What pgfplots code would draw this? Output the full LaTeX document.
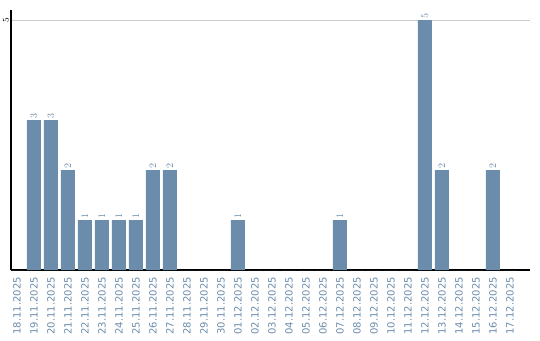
\documentclass[border=0pt]{standalone}
\usepackage{pgfplots}
\pgfplotsset{compat=1.18}
\usepackage{fontspec}
\setmainfont{DejaVu Sans}
\definecolor{barc}{RGB}{107,140,171}
\definecolor{gridc}{RGB}{204,204,204}
\begin{document}
\begin{tikzpicture}[x=1bp,y=1bp]
\path[use as bounding box] (0,0) rectangle (540,340);
\begin{axis}[
  at={(11bp,70bp)}, anchor=south west,
  scale only axis, width=519bp, height=260bp,
  xmin=-0.353, xmax=30.18,
  ymin=0, ymax=5.2,
  axis x line*=bottom, axis y line*=left,
  axis line style={black, line width=1.2bp, -},
  xtick={0,...,29}, major tick length=0pt,
  xmajorgrids=false,
  xticklabels={18.11.2025,19.11.2025,20.11.2025,21.11.2025,22.11.2025,23.11.2025,24.11.2025,25.11.2025,26.11.2025,27.11.2025,28.11.2025,29.11.2025,30.11.2025,01.12.2025,02.12.2025,03.12.2025,04.12.2025,05.12.2025,06.12.2025,07.12.2025,08.12.2025,09.12.2025,10.12.2025,11.12.2025,12.12.2025,13.12.2025,14.12.2025,15.12.2025,16.12.2025,17.12.2025},
  xticklabel style={rotate=90, anchor=east, font=\fontsize{10bp}{12bp}\selectfont, text=barc, inner sep=0pt, xshift=-7bp},
  ytick={5},
  yticklabel style={rotate=90, anchor=south, font=\fontsize{9bp}{11bp}\selectfont, text=black, inner sep=0pt, yshift=2bp},
  ymajorgrids=true, y grid style={gridc, line width=1bp},
  clip=false,
]
\addplot[ybar, bar width=14bp, fill=barc, draw=none,
  nodes near coords={\pgfmathfloatifflags{\pgfplotspointmeta}{0}{}{\pgfmathprintnumber{\pgfplotspointmeta}}},
  every node near coord/.append style={rotate=90, anchor=west, font=\fontsize{10bp}{12bp}\selectfont, text=barc, inner sep=1.5bp}]
coordinates {
(0,0) (1,3) (2,3) (3,2) (4,1) (5,1) (6,1) (7,1) (8,2) (9,2)
(10,0) (11,0) (12,0) (13,1) (14,0) (15,0) (16,0) (17,0) (18,0) (19,1)
(20,0) (21,0) (22,0) (23,0) (24,5) (25,2) (26,0) (27,0) (28,2) (29,0)
};
\end{axis}
\end{tikzpicture}
\end{document}
